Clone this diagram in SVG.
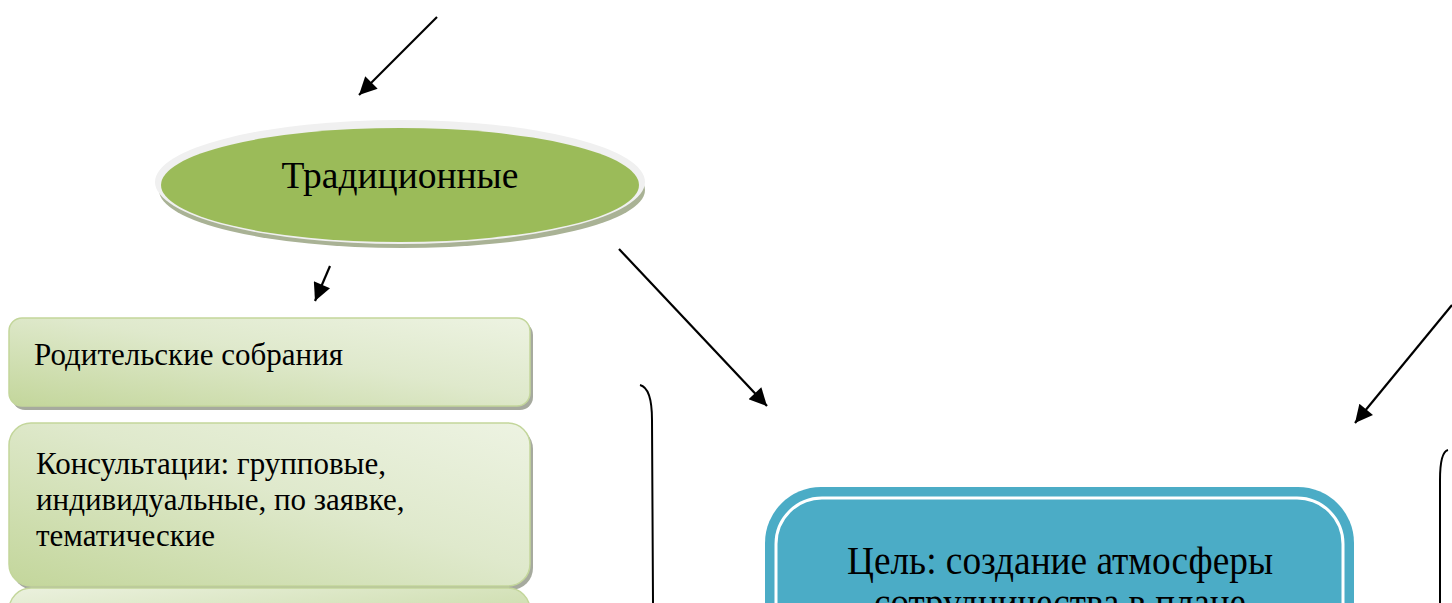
<svg xmlns="http://www.w3.org/2000/svg" width="1452" height="603" viewBox="0 0 1452 603">
<defs>
<linearGradient id="gA" x1="0" y1="1" x2="1" y2="0">
<stop offset="0" stop-color="#c3d69b"/>
<stop offset="0.55" stop-color="#dfe9cc"/>
<stop offset="1" stop-color="#edf3e2"/>
</linearGradient>
<linearGradient id="gB" x1="0" y1="0" x2="1" y2="1">
<stop offset="0" stop-color="#ebf1de"/>
<stop offset="0.5" stop-color="#d6e3bc"/>
<stop offset="1" stop-color="#c3d69b"/>
</linearGradient>
<marker id="ah" viewBox="0 0 10 10" refX="10" refY="5" markerWidth="9" markerHeight="8" markerUnits="strokeWidth" orient="auto">
<path d="M0,0 L10,5 L0,10 z" fill="#000"/>
</marker>
<style>
.arr{stroke:#000;stroke-width:2.2;fill:none;marker-end:url(#ah)}
.brace{stroke:#000;stroke-width:2;fill:none}
.box{stroke:#c3d69b;stroke-width:1.5}
.shadow{fill:#a6aa9e}
.t{font-family:"Liberation Serif","Times New Roman",serif;fill:#000}
.bt{font-size:31px}
</style>
</defs>
<rect width="1452" height="603" fill="#fff"/>

<g id="traditional">
<ellipse cx="402" cy="190" rx="243" ry="58" fill="#a9b295"/>
<ellipse cx="400" cy="182" rx="245" ry="62" fill="#f0f0f0"/>
<ellipse cx="400" cy="185" rx="239" ry="57" fill="#9bbb59"/>
<text class="t" x="400" y="188" font-size="37.5" text-anchor="middle">Традиционные</text>
</g>

<g id="box-meetings">
<rect class="shadow" x="12" y="322" width="521" height="88" rx="13"/>
<rect class="box" x="9" y="318" width="521" height="88" rx="13" fill="url(#gA)"/>
<text class="t bt" x="34" y="365">Родительские собрания</text>
</g>

<g id="box-consult">
<rect class="shadow" x="12" y="427" width="521" height="163" rx="22"/>
<rect class="box" x="9" y="423" width="521" height="163" rx="22" fill="url(#gA)"/>
<text class="t bt" x="36" y="474">Консультации: групповые,</text>
<text class="t bt" x="36" y="510">индивидуальные, по заявке,</text>
<text class="t bt" x="36" y="546">тематические</text>
</g>

<g id="box-third">
<rect class="box" x="9" y="588" width="521" height="60" rx="22" fill="url(#gB)"/>
</g>

<g id="goal">
<rect x="765" y="487" width="589" height="200" rx="56" fill="#4bacc6"/>
<rect x="776" y="498" width="567" height="190" rx="46" fill="none" stroke="#fff" stroke-width="3"/>
<text class="t" x="1060" y="574" font-size="40" text-anchor="middle" textLength="426" lengthAdjust="spacingAndGlyphs">Цель: создание атмосферы</text>
<text class="t" x="1060" y="616" font-size="40" text-anchor="middle" textLength="372" lengthAdjust="spacingAndGlyphs">сотрудничества в плане</text>
</g>

<g id="connectors">
<line class="arr" x1="437" y1="17" x2="359" y2="95"/>
<line class="arr" x1="330" y1="266" x2="315" y2="301"/>
<line class="arr" x1="619" y1="249" x2="767" y2="406"/>
<line class="arr" x1="1452" y1="305" x2="1355" y2="423"/>
<path class="brace" d="M640,385 Q652,388 652,420 L653,603"/>
<path class="brace" d="M1448,450 Q1440,452 1440,480 L1440,603"/>
</g>
</svg>
